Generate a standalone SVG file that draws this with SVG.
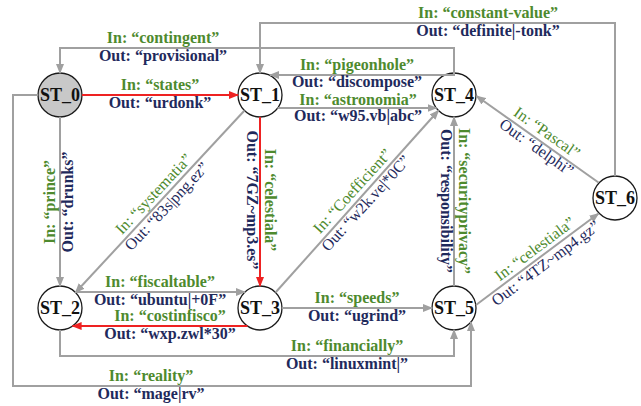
<svg xmlns="http://www.w3.org/2000/svg" width="641" height="406" viewBox="0 0 641 406">
<style>
text{font-family:"Liberation Serif","Times New Roman",serif;font-size:16px;font-weight:bold;text-anchor:middle}
.in{fill:#4e8a2e}
.out{fill:#1f2a5c}
.diag text{font-weight:normal}
.node circle{fill:#fff;stroke:#1a1a1a;stroke-width:1.3}
.node text{font-size:18px;fill:#111}
.e{fill:none;stroke:#a0a0a0;stroke-width:2}
.r{fill:none;stroke:#ee2222;stroke-width:2}
</style>
<defs>
<marker id="ag" markerWidth="10" markerHeight="8" refX="9" refY="4" orient="auto" markerUnits="userSpaceOnUse"><path d="M0,0 L10,4 L0,8 z" fill="#a0a0a0"/></marker>
<marker id="ar" markerWidth="10" markerHeight="8" refX="9" refY="4" orient="auto" markerUnits="userSpaceOnUse"><path d="M0,0 L10,4 L0,8 z" fill="#ee2222"/></marker>
</defs>
<g id="ST_0" class="node"><circle cx="60" cy="95" r="22" style="fill:#c8c8c8"/><text x="60" y="101">ST_0</text></g>
<g id="ST_1" class="node"><circle cx="260" cy="95" r="22"/><text x="260" y="101">ST_1</text></g>
<g id="ST_4" class="node"><circle cx="454" cy="95" r="22"/><text x="454" y="101">ST_4</text></g>
<g id="ST_2" class="node"><circle cx="60" cy="308" r="22"/><text x="60" y="314">ST_2</text></g>
<g id="ST_3" class="node"><circle cx="260" cy="308" r="22"/><text x="260" y="314">ST_3</text></g>
<g id="ST_5" class="node"><circle cx="454" cy="308" r="22"/><text x="454" y="314">ST_5</text></g>
<g id="ST_6" class="node"><circle cx="615" cy="198" r="22"/><text x="615" y="204">ST_6</text></g>
<g id="connectors">
<path class="r" d="M82 95 H238" marker-end="url(#ar)"/>
<path class="e" d="M454 73 V48 H60 V73" marker-end="url(#ag)"/>
<path class="e" d="M615 176 V23 H260 V73" marker-end="url(#ag)"/>
<path class="e" d="M454 73 V75 H270" marker-end="url(#ag)"/>
<path class="e" d="M277.5 108 H436.5" marker-end="url(#ag)"/>
<path class="e" d="M60 117 V286" marker-end="url(#ag)"/>
<path class="r" d="M260 117 V286" marker-end="url(#ar)"/>
<path class="e" d="M244.5 110.5 L75.5 292.5" marker-end="url(#ag)"/>
<path class="e" d="M75 292 H245" marker-end="url(#ag)"/>
<path class="r" d="M247.4 326 H72.6" marker-end="url(#ar)"/>
<path class="e" d="M275.5 292.5 L438.5 110.5" marker-end="url(#ag)"/>
<path class="e" d="M282 308 H432" marker-end="url(#ag)"/>
<path class="e" d="M454 286 V117" marker-end="url(#ag)"/>
<path class="e" d="M598.5 182.5 L476.5 96" marker-end="url(#ag)"/>
<path class="e" d="M476 305 L598.5 213.5" marker-end="url(#ag)"/>
<path class="e" d="M60 330 V356 H454 V330" marker-end="url(#ag)"/>
<path class="e" d="M38 95 H13 V386 H471 V322" marker-end="url(#ag)"/>
</g>
<g id="labels">
<g transform="translate(160,95)"><text class="in" y="-5">In: “states”</text><text class="out" y="13">Out: “urdonk”</text></g>
<g transform="translate(163,48)"><text class="in" y="-5">In: “contingent”</text><text class="out" y="13">Out: “provisional”</text></g>
<g transform="translate(488,23)"><text class="in" y="-5">In: “constant-value”</text><text class="out" y="13">Out: “definite|-tonk”</text></g>
<g transform="translate(357,75)"><text class="in" y="-5">In: “pigeonhole”</text><text class="out" y="12">Out: “discompose”</text></g>
<g transform="translate(358,108)"><text class="in" y="-3">In: “astronomia”</text><text class="out" y="13">Out: “w95.vb|abc”</text></g>
<g transform="translate(60,202) rotate(-90)"><text class="in" y="-5">In: “prince”</text><text class="out" y="13">Out: “drunks”</text></g>
<g transform="translate(260,200) rotate(90)"><text class="in" y="-5">In: “celestiala”</text><text class="out" y="13">Out: “7GZ~mp3.es”</text></g>
<g class="diag" transform="translate(161,201) rotate(-46.8)"><text class="in" y="-5">In: “systematia”</text><text class="out" y="13">Out: “83s|png.ez”</text></g>
<g transform="translate(160,292)"><text class="in" y="-5">In: “fiscaltable”</text><text class="out" y="13">Out: “ubuntu|+0F”</text></g>
<g transform="translate(170,326)"><text class="in" y="-5">In: “costinfisco”</text><text class="out" y="13">Out: “wxp.zwl*30”</text></g>
<g class="diag" transform="translate(360,198) rotate(-47.7)"><text class="in" y="-5">In: “Coefficient”</text><text class="out" y="13">Out: “w2k.ve|*0C”</text></g>
<g transform="translate(357,308)"><text class="in" y="-5">In: “speeds”</text><text class="out" y="13">Out: “ugrind”</text></g>
<g transform="translate(454,201) rotate(90)"><text class="in" y="-5">In: “securityprivacy”</text><text class="out" y="13">Out: “responsibility”</text></g>
<g class="diag" transform="translate(541,141) rotate(35.3)"><text class="in" y="-5">In: “Pascal”</text><text class="out" y="13">Out: “delphi”</text></g>
<g class="diag" transform="translate(541,257) rotate(-36.8)"><text class="in" y="-5">In: “celestiala”</text><text class="out" y="13">Out: “4TZ~mp4.gz”</text></g>
<g transform="translate(347,356)"><text class="in" y="-5">In: “financially”</text><text class="out" y="13">Out: “linuxmint|”</text></g>
<g transform="translate(151,386)"><text class="in" y="-5">In: “reality”</text><text class="out" y="13">Out: “mage|rv”</text></g>
</g>
</svg>
